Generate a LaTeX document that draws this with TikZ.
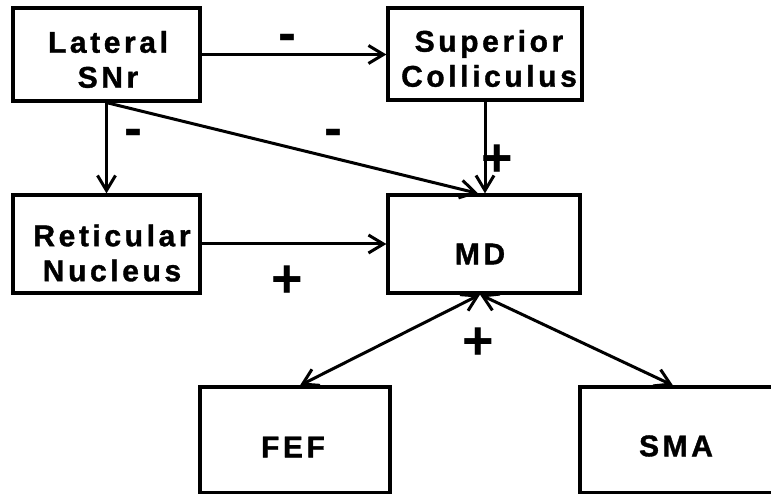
\documentclass[tikz,border=0pt]{standalone}
\usepackage{fontspec}
\setmainfont{Liberation Sans}
\newfontfamily\boxfont{Liberation Sans}[LetterSpace=12,BoldFeatures={FakeBold=1.2}]
\usetikzlibrary{arrows.meta,calc}
\begin{document}
\begin{tikzpicture}[x=1pt,y=-1pt,
  box/.style={draw,line width=3.2pt,inner sep=0pt},
  area/.style={inner sep=0pt,align=center,font=\boxfont\bfseries\fontsize{30}{35}\selectfont},
  link/.style={line width=3pt,-{Straight Barb[length=15pt,width=18pt]}},
  twoway/.style={line width=3pt,{Straight Barb[length=15pt,width=18pt]}-{Straight Barb[length=15pt,width=18pt]}},
  sign/.style={inner sep=0pt,anchor=base,font=\bfseries\fontsize{54}{54}\selectfont}]
\useasboundingbox (0,0) rectangle (771,494);

% boxes
\node[box,minimum width=187pt,minimum height=93pt]  (snr) at (106.5,54.5) {};
\node[box,minimum width=194pt,minimum height=92pt]  (sc)  at (485,54) {};
\node[box,minimum width=187pt,minimum height=98pt]  (ret) at (106.5,244) {};
\node[box,minimum width=192pt,minimum height=98pt]  (md)  at (484,244) {};
\node[box,minimum width=190pt,minimum height=105.5pt] (fef) at (295,439.75) {};
\node[box,minimum width=210pt,minimum height=105.5pt] (sma) at (685,439.75) {};

% box names
\node[area] (snrname) at (108,59.5) {Lateral\\SNr};
\node[area] (scname)  at (489,58.5) {Superior\\Colliculus};
\node[area] (retname) at (112,253) {Reticular\\Nucleus};
\node[area] (mdname)  at (480,254) {MD};
\node[area] (fefname) at (293,447) {FEF};
\node[area] (smaname) at (676,446) {SMA};

% connections
\draw[link] (snr.east) -- (snr.east -| sc.west);
\draw[link] (snr.south) -- (ret.north);
\draw[link] (snr.south) -- ([xshift=-6pt]md.north);
\draw[link] (sc.south) -- (sc.south |- md.north);
\draw[link] (ret.east) -- (ret.east -| md.west);
\draw[twoway] ([xshift=-4pt]md.south) -- ([xshift=5pt]fef.north);
\draw[twoway] ([xshift=-4pt]md.south) -- ([xshift=-12pt]sma.north);

% signs of the connections
\node[sign] (s1) at (287,52) {-};
\node[sign] (s2) at (133,147) {-};
\node[sign] (s3) at (333,147) {-};
\node[sign] (s4) at (497,176.5) {+};
\node[sign] (s5) at (287,297.5) {+};
\node[sign] (s6) at (478,359.5) {+};
\end{tikzpicture}
\end{document}
